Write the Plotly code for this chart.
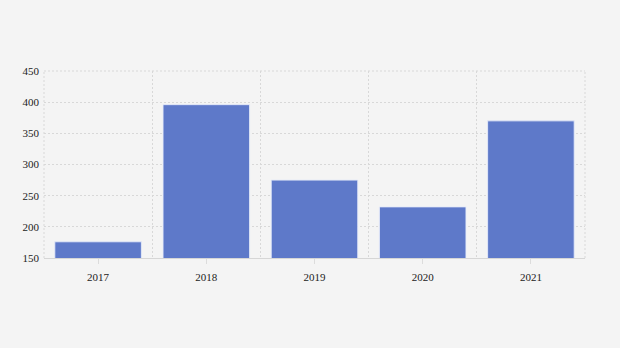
import plotly.graph_objects as go

years = ["2017", "2018", "2019", "2020", "2021"]
values = [176, 396, 275, 232, 370]

fig = go.Figure()
fig.add_trace(go.Bar(
    x=years, y=values,
    marker=dict(color="#5e79c9", line=dict(color="rgba(230,235,250,0.9)", width=1)),
    showlegend=False, hoverinfo="x+y",
))
# invisible trace for label axis
fig.add_trace(go.Scatter(x=years, y=[None]*5, xaxis="x2", showlegend=False, hoverinfo="skip"))

gc = "#d8d8d8"
gd = "2px,2px"
fig.update_layout(
    width=620, height=348,
    margin=dict(l=44, r=35, t=71, b=90),
    paper_bgcolor="#f4f4f4", plot_bgcolor="#f4f4f4",
    font=dict(family="Liberation Serif", size=11, color="#222222"),
    bargap=0.2,
    xaxis=dict(type="category", categoryarray=years, range=[-0.5, 4.5],
               tickson="boundaries", showgrid=True, gridcolor=gc, griddash=gd, gridwidth=1,
               showticklabels=False, ticks="", showline=True, linecolor="#d6d6d6", linewidth=1,
               mirror=False, zeroline=False),
    xaxis2=dict(type="category", categoryarray=years, range=[-0.5, 4.5], overlaying="x",
                side="bottom", showgrid=False, ticks="outside", ticklen=5, tickcolor="#dcdcdc",
                showline=False, ticklabelstandoff=4, tickfont=dict(family="Liberation Serif", size=11, color="#222222")),
    yaxis=dict(range=[150, 450], dtick=50, showgrid=True, gridcolor=gc, griddash=gd,
               gridwidth=1, zeroline=False, ticks="", tickfont=dict(family="Liberation Serif", size=11, color="#222222"),
               ticklabelstandoff=4),
    shapes=[
        dict(type="line", xref="paper", yref="paper", x0=1, x1=1, y0=0, y1=1, layer="below",
             line=dict(color=gc, width=1, dash=gd)),
        dict(type="line", xref="paper", yref="paper", x0=0, x1=0, y0=0, y1=1, layer="below",
             line=dict(color=gc, width=1, dash=gd)),
        dict(type="line", xref="paper", yref="paper", x0=0, x1=1, y0=1, y1=1, layer="below",
             line=dict(color=gc, width=1, dash=gd)),
    ],
)
fig.write_html("out.html")
